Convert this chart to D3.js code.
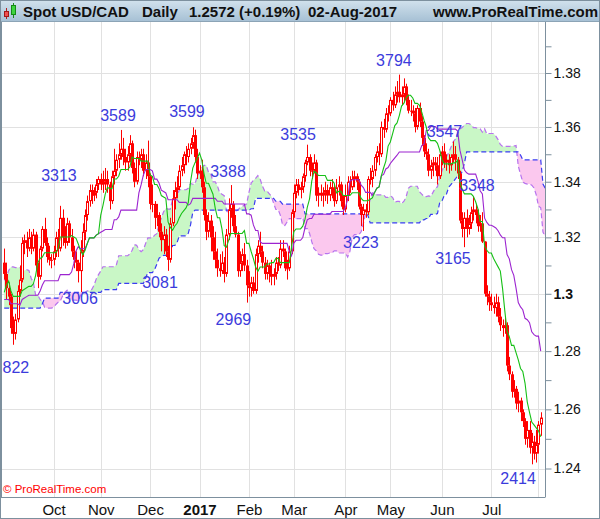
<!DOCTYPE html>
<html><head><meta charset="utf-8">
<script src="https://cdn.jsdelivr.net/npm/d3@7"></script>
<style>body{margin:0;background:#fff}svg{display:block}text{font-family:"Liberation Sans",Arial,sans-serif}</style>
</head><body>
<svg id="c" width="600" height="519"></svg>
<script>
// ---------------- DATA ----------------
const firstDay = "2016-09-01", lastDay = "2017-08-02";
const opens = [
1.3110,1.3070,1.3020,1.2990,1.2880,1.2860,1.2910,1.3010,1.3050,1.3180,1.3190,1.3160,1.3200,1.3160,1.3210,1.3100,1.3060,1.3160,1.3230,1.3180,1.3130,1.3120,
1.3120,1.3150,1.3200,1.3160,1.3270,1.3200,1.3180,1.3250,1.3200,1.3150,1.3120,1.3110,1.3080,1.3150,1.3220,1.3280,1.3330,1.3370,1.3350,1.3360,1.3390,
1.3410,1.3390,1.3400,1.3410,1.3390,1.3330,1.3420,1.3440,1.3480,1.3500,1.3520,1.3490,1.3470,1.3500,1.3540,1.3450,1.3400,1.3490,1.3480,1.3500,1.3440,1.3470,
1.3420,1.3320,1.3320,1.3270,1.3280,1.3220,1.3190,1.3210,1.3150,1.3120,1.3250,1.3340,1.3370,1.3380,1.3440,1.3460,1.3500,1.3490,1.3520,1.3540,1.3570,1.3490,
1.3430,1.3440,1.3380,1.3280,1.3220,1.3260,1.3200,1.3150,1.3120,1.3090,1.3080,1.3110,1.3070,1.3210,1.3300,1.3320,1.3240,1.3210,1.3080,1.3110,1.3140,1.3100,
1.3030,1.3020,1.3040,1.3010,1.3140,1.3170,1.3150,1.3110,1.3070,1.3100,1.3070,1.3060,1.3070,1.3110,1.3100,1.3160,1.3150,1.3090,1.3090,1.3150,
1.3290,1.3360,1.3390,1.3370,1.3380,1.3420,1.3470,1.3490,1.3440,1.3440,1.3470,1.3350,1.3360,1.3350,1.3360,1.3370,1.3350,1.3380,1.3370,1.3330,1.3380,1.3390,1.3330,
1.3300,1.3350,1.3400,1.3380,1.3410,1.3420,1.3400,1.3310,1.3280,1.3300,1.3290,1.3410,1.3410,1.3440,1.3490,1.3510,1.3500,1.3600,1.3590,1.3650,
1.3650,1.3700,1.3680,1.3720,1.3730,1.3710,1.3720,1.3750,1.3700,1.3660,1.3660,1.3650,1.3600,1.3670,1.3620,1.3560,1.3510,1.3500,1.3440,1.3460,1.3470,1.3460,1.3420,
1.3500,1.3510,1.3470,1.3480,1.3460,1.3490,1.3500,1.3480,1.3430,1.3260,1.3230,1.3270,1.3230,1.3250,1.3290,1.3300,1.3280,1.3240,1.3250,1.3185,1.3000,1.2990,
1.2970,1.2960,1.2950,1.2970,1.2920,1.2890,1.2880,1.2890,1.2750,1.2720,1.2660,1.2670,1.2620,1.2630,1.2590,1.2560,1.2500,1.2530,1.2470,1.2490,1.2450,
1.2480,1.2548];
const highs = [
1.3160,1.3110,1.3040,1.3000,1.2920,1.2930,1.3030,1.3100,1.3200,1.3210,1.3220,1.3230,1.3220,1.3230,1.3220,1.3110,1.3170,1.3240,1.3270,1.3200,1.3170,1.3140,
1.3170,1.3220,1.3230,1.3313,1.3300,1.3240,1.3270,1.3260,1.3230,1.3170,1.3150,1.3120,1.3190,1.3250,1.3300,1.3350,1.3390,1.3390,1.3380,1.3410,1.3420,
1.3430,1.3440,1.3450,1.3440,1.3400,1.3440,1.3520,1.3500,1.3540,1.3589,1.3560,1.3520,1.3530,1.3570,1.3550,1.3470,1.3510,1.3510,1.3520,1.3520,1.3500,1.3550,
1.3430,1.3390,1.3330,1.3320,1.3290,1.3250,1.3240,1.3230,1.3170,1.3270,1.3370,1.3400,1.3420,1.3460,1.3490,1.3510,1.3530,1.3540,1.3560,1.3599,1.3590,1.3520,
1.3460,1.3480,1.3400,1.3300,1.3290,1.3280,1.3240,1.3220,1.3160,1.3140,1.3150,1.3130,1.3230,1.3340,1.3388,1.3330,1.3280,1.3220,1.3150,1.3160,1.3180,1.3120,
1.3080,1.3060,1.3060,1.3160,1.3190,1.3220,1.3170,1.3130,1.3120,1.3110,1.3120,1.3090,1.3130,1.3130,1.3190,1.3190,1.3160,1.3120,1.3170,1.3300,
1.3390,1.3410,1.3410,1.3400,1.3430,1.3480,1.3535,1.3500,1.3470,1.3500,1.3480,1.3380,1.3390,1.3380,1.3400,1.3390,1.3400,1.3410,1.3390,1.3410,1.3420,1.3400,1.3350,
1.3390,1.3420,1.3420,1.3440,1.3440,1.3430,1.3410,1.3320,1.3320,1.3320,1.3420,1.3450,1.3460,1.3500,1.3530,1.3540,1.3620,1.3630,1.3670,1.3680,
1.3710,1.3730,1.3750,1.3770,1.3794,1.3750,1.3780,1.3760,1.3720,1.3700,1.3680,1.3670,1.3680,1.3690,1.3640,1.3570,1.3540,1.3520,1.3480,1.3490,1.3490,1.3490,1.3510,
1.3530,1.3540,1.3500,1.3500,1.3500,1.3547,1.3530,1.3490,1.3440,1.3290,1.3290,1.3300,1.3280,1.3310,1.3348,1.3320,1.3300,1.3280,1.3290,1.3186,1.3030,1.3010,
1.3000,1.2990,1.3000,1.2990,1.2950,1.2910,1.2920,1.2900,1.2780,1.2730,1.2700,1.2680,1.2660,1.2640,1.2600,1.2570,1.2560,1.2560,1.2520,1.2510,1.2530,
1.2560,1.2590];
const lows = [
1.3050,1.2980,1.2960,1.2860,1.2822,1.2840,1.2900,1.2990,1.3040,1.3140,1.3130,1.3150,1.3140,1.3150,1.3080,1.3020,1.3050,1.3150,1.3170,1.3110,1.3100,1.3090,
1.3100,1.3130,1.3130,1.3150,1.3170,1.3160,1.3170,1.3180,1.3130,1.3090,1.3080,1.3040,1.3006,1.3130,1.3190,1.3260,1.3310,1.3320,1.3330,1.3340,1.3370,
1.3370,1.3360,1.3370,1.3360,1.3300,1.3320,1.3390,1.3420,1.3450,1.3480,1.3460,1.3440,1.3440,1.3470,1.3430,1.3380,1.3390,1.3460,1.3450,1.3420,1.3410,1.3380,
1.3300,1.3290,1.3230,1.3240,1.3200,1.3150,1.3140,1.3130,1.3081,1.3110,1.3240,1.3300,1.3340,1.3370,1.3420,1.3430,1.3460,1.3470,1.3500,1.3520,1.3470,1.3410,
1.3410,1.3360,1.3260,1.3190,1.3200,1.3150,1.3120,1.3090,1.3060,1.3060,1.3070,1.3040,1.3060,1.3190,1.3270,1.3220,1.3200,1.3060,1.3060,1.3080,1.3080,1.2969,
1.2990,1.2990,1.3000,1.3000,1.3110,1.3130,1.3090,1.3050,1.3050,1.3040,1.3030,1.3030,1.3050,1.3080,1.3090,1.3130,1.3080,1.3050,1.3080,1.3140,
1.3270,1.3340,1.3350,1.3340,1.3360,1.3400,1.3460,1.3420,1.3410,1.3430,1.3330,1.3310,1.3330,1.3310,1.3330,1.3320,1.3330,1.3340,1.3310,1.3320,1.3350,1.3310,1.3280,
1.3290,1.3330,1.3360,1.3370,1.3380,1.3370,1.3300,1.3240,1.3223,1.3270,1.3280,1.3390,1.3380,1.3420,1.3470,1.3460,1.3490,1.3560,1.3580,1.3620,
1.3640,1.3660,1.3670,1.3690,1.3690,1.3680,1.3690,1.3680,1.3650,1.3640,1.3620,1.3580,1.3590,1.3600,1.3530,1.3490,1.3480,1.3420,1.3410,1.3420,1.3440,1.3390,1.3410,
1.3460,1.3450,1.3440,1.3430,1.3440,1.3470,1.3440,1.3410,1.3250,1.3200,1.3165,1.3200,1.3210,1.3230,1.3260,1.3250,1.3220,1.3220,1.3180,1.2990,1.2960,1.2940,
1.2940,1.2930,1.2920,1.2900,1.2870,1.2850,1.2860,1.2730,1.2700,1.2640,1.2640,1.2600,1.2590,1.2560,1.2540,1.2480,1.2470,1.2450,1.2414,1.2430,1.2420,
1.2450,1.2510];
const closes = [
1.3070,1.3020,1.2990,1.2880,1.2860,1.2910,1.3010,1.3050,1.3180,1.3190,1.3160,1.3200,1.3160,1.3210,1.3100,1.3060,1.3160,1.3230,1.3180,1.3130,1.3120,1.3120,
1.3150,1.3200,1.3160,1.3270,1.3200,1.3180,1.3250,1.3200,1.3150,1.3120,1.3110,1.3080,1.3150,1.3220,1.3280,1.3330,1.3370,1.3350,1.3360,1.3390,1.3410,
1.3390,1.3400,1.3410,1.3390,1.3330,1.3420,1.3440,1.3480,1.3500,1.3520,1.3490,1.3470,1.3500,1.3540,1.3450,1.3400,1.3490,1.3480,1.3500,1.3440,1.3470,1.3420,
1.3320,1.3320,1.3270,1.3280,1.3220,1.3190,1.3210,1.3150,1.3120,1.3250,1.3340,1.3370,1.3380,1.3440,1.3460,1.3500,1.3490,1.3520,1.3540,1.3570,1.3490,1.3430,
1.3440,1.3380,1.3280,1.3220,1.3260,1.3200,1.3150,1.3120,1.3090,1.3080,1.3110,1.3070,1.3210,1.3300,1.3320,1.3240,1.3210,1.3080,1.3110,1.3140,1.3100,1.3030,
1.3020,1.3040,1.3010,1.3140,1.3170,1.3150,1.3110,1.3070,1.3100,1.3070,1.3060,1.3070,1.3110,1.3100,1.3160,1.3150,1.3090,1.3090,1.3150,1.3290,
1.3360,1.3390,1.3370,1.3380,1.3420,1.3470,1.3490,1.3440,1.3440,1.3470,1.3350,1.3360,1.3350,1.3360,1.3370,1.3350,1.3380,1.3370,1.3330,1.3380,1.3390,1.3330,1.3300,
1.3350,1.3400,1.3380,1.3410,1.3420,1.3400,1.3310,1.3280,1.3300,1.3290,1.3410,1.3410,1.3440,1.3490,1.3510,1.3500,1.3600,1.3590,1.3650,1.3650,
1.3700,1.3680,1.3720,1.3730,1.3710,1.3720,1.3750,1.3700,1.3660,1.3660,1.3650,1.3600,1.3670,1.3620,1.3560,1.3510,1.3500,1.3440,1.3460,1.3470,1.3460,1.3420,1.3500,
1.3510,1.3470,1.3480,1.3460,1.3490,1.3500,1.3480,1.3430,1.3260,1.3230,1.3270,1.3230,1.3250,1.3290,1.3300,1.3280,1.3240,1.3250,1.3185,1.3000,1.2990,1.2970,
1.2960,1.2950,1.2970,1.2920,1.2890,1.2880,1.2890,1.2750,1.2720,1.2660,1.2670,1.2620,1.2630,1.2590,1.2560,1.2500,1.2530,1.2470,1.2490,1.2450,1.2480,
1.2548,1.2572];
// history before the first visible day (only feeds the Ichimoku lines)
const preHighs = [
1.2940,1.3040,1.3080,1.3100,1.3160,1.3190,1.3180,1.3130,1.3130,1.3120,1.3110,
1.3140,1.3100,1.3040,1.2880,1.2800,1.2770,1.2800,1.2900,1.2840,1.2900,1.2880,1.2960,1.2900,1.2840,1.2830,1.2860,1.2860,1.3120,1.3120,1.3060,1.2980,1.2960,
1.2960,1.2900,1.3020,1.3080,1.3100,1.3110,1.3080,1.3030,1.3070,1.3000,1.3050,1.3060,1.3120,1.3140,1.3170,1.3200,1.3250,1.3250,1.3220,1.3180,1.3150,
1.3200,1.3160,1.3150,1.3140,1.3170,1.3150,1.3120,1.3040,1.3010,1.3030,1.2970,1.2900,1.2880,1.2860,1.2880,1.2960,1.2990,1.3020,1.3030,1.3040,1.3080,1.3110,1.3130];
const preLows = [
1.2840,1.2880,1.2960,1.3020,1.3060,1.3090,1.3080,1.2990,1.2990,1.3050,1.3040,
1.3020,1.2990,1.2820,1.2760,1.2690,1.2650,1.2680,1.2760,1.2760,1.2800,1.2790,1.2800,1.2780,1.2720,1.2760,1.2760,1.2760,1.2830,1.2960,1.2960,1.2900,1.2880,
1.2880,1.2840,1.2880,1.2980,1.3010,1.2970,1.2990,1.2920,1.2970,1.2930,1.2930,1.2970,1.3000,1.3070,1.3080,1.3100,1.3170,1.3150,1.3120,1.3060,1.3040,
1.3100,1.3060,1.3030,1.3040,1.3050,1.3060,1.3000,1.2970,1.2960,1.2900,1.2870,1.2780,1.2780,1.2760,1.2790,1.2850,1.2900,1.2930,1.2950,1.2970,1.3000,1.3030,1.3060];

const yTicks = [1.24,1.26,1.28,1.30,1.32,1.34,1.36,1.38];
const yTickLabels = ["1.24","1.26","1.28","1.3","1.32","1.34","1.36","1.38"];
const yMinorTicks = [1.25,1.27,1.29,1.31,1.33,1.35,1.37,1.39];
const monthLabels = ["Oct","Nov","Dec","2017","Feb","Mar","Apr","May","Jun","Jul",""];

// swing annotations: label text, price, day position of label centre
const swingText  = ["3313","3589","3599","3388","3535","3794","3547","3348","822","3006","3081","2969","3223","3165","2414"];
const swingPrice = [1.3313,1.3589,1.3599,1.3388,1.3535,1.3794,1.3547,1.3348,1.2822,1.3006,1.3081,1.2969,1.3223,1.3165,1.2414];
const swingDay   = [24.4,50.7,81.4,99.7,130.9,173.6,196.1,210.6,5.2,33.8,69.4,102.1,158.9,199.9,228.9];

const headerTexts = ["Spot USD/CAD","Daily","1.2572 (+0.19%)","02-Aug-2017","www.ProRealTime.com"];

// ---------------- LAYOUT ----------------
const W = 600, H = 519;
const P = {l:2, r:545, t:22, b:497};
const swingDy = [-25,-9,-10,-8,-5,-9,-4,-5,28,12,17,22,17,17,19.5];
const headerX = [23,142,189,308,433];

const parse = s => new Date(s + "T00:00:00Z");
const weekdays = (a,b) => d3.utcDay.range(parse(a), d3.utcDay.offset(parse(b),1)).filter(d => d.getUTCDay()%6 !== 0);
const dates = weekdays(firstDay, lastDay);
const N = dates.length;
const NP = preHighs.length;
const allH = preHighs.concat(highs), allL = preLows.concat(lows);

const x = d3.scaleLinear().domain([-0.98, 240.9]).range([P.l, P.r]);
const y = d3.scaleLog().domain([1.24, 1.38]).range([468.5, 73]);

function mid(j, n){ // j = visible day index (can be negative)
  const e = j + NP, s = e - n + 1;
  return (d3.max(allH.slice(s, e+1)) + d3.min(allL.slice(s, e+1))) / 2;
}
const tenkan = d3.range(N).map(i => mid(i, 9));
const kijun = d3.range(N).map(i => mid(i, 26));
const T = N + 3;
const spanA = d3.range(T).map(t => (mid(t-26, 9) + mid(t-26, 26)) / 2);
const spanB = d3.range(T).map(t => mid(t-26, 52));

const svg = d3.select("#c");
const defs = svg.append("defs");
const gr = defs.append("linearGradient").attr("id","hdr").attr("x1",0).attr("y1",0).attr("x2",0).attr("y2",1);
gr.append("stop").attr("offset","0").attr("stop-color","#d2e2ed");
gr.append("stop").attr("offset","1").attr("stop-color","#a7c1d5");
defs.append("clipPath").attr("id","clip").append("rect")
  .attr("x",P.l).attr("y",P.t).attr("width",P.r-P.l).attr("height",P.b-P.t);

svg.append("rect").attr("width",W).attr("height",H).attr("fill","#fff");

// grid
const monthIdx = d3.range(1, N).filter(i => dates[i].getUTCMonth() !== dates[i-1].getUTCMonth());
const grid = svg.append("g");
grid.selectAll(".gh").data(yTicks).join("line")
  .attr("x1",P.l).attr("x2",P.r).attr("y1",d=>Math.round(y(d))+0.5).attr("y2",d=>Math.round(y(d))+0.5)
  .attr("stroke","#e1e1e1");
grid.selectAll(".gv").data(monthIdx).join("line")
  .attr("y1",P.t).attr("y2",P.b).attr("x1",d=>Math.round(x(d))+0.5).attr("x2",d=>Math.round(x(d))+0.5)
  .attr("stroke","#e1e1e1");

const g = svg.append("g").attr("clip-path","url(#clip)");

// cloud
const cpts = [];
for (let t=0; t<T; t++){
  const p = {x:x(t), ya:y(spanA[t]), yb:y(spanB[t])};
  cpts.push(p);
  if (t+1 < T){
    const q = {x:x(t+1), ya:y(spanA[t+1]), yb:y(spanB[t+1])};
    const d1 = p.ya - p.yb, d2 = q.ya - q.yb;
    if (d1*d2 < 0){
      const f = d1/(d1-d2);
      const yy = p.ya + f*(q.ya-p.ya);
      cpts.push({x:p.x + f*(q.x-p.x), ya:yy, yb:yy});
    }
  }
}
g.append("path").datum(cpts).attr("fill","#c9f7c6")
  .attr("d", d3.area().x(d=>d.x).y0(d=>d.yb).y1(d=>Math.min(d.ya,d.yb)));
g.append("path").datum(cpts).attr("fill","#fbc8ee")
  .attr("d", d3.area().x(d=>d.x).y0(d=>d.ya).y1(d=>Math.min(d.ya,d.yb)));
const lt = d3.line().x((d,i)=>x(i)).y(d=>y(d));
g.append("path").datum(spanA).attr("fill","none").attr("stroke","#b772ee").attr("stroke-width",1.2)
  .attr("stroke-dasharray","5,3").attr("d", lt);
g.append("path").datum(spanB).attr("fill","none").attr("stroke","#3a3cf2").attr("stroke-width",1.2)
  .attr("stroke-dasharray","5,3").attr("d", lt);

// candles
const candles = dates.map((d,i)=>({i, o:opens[i], h:highs[i], l:lows[i], c:closes[i]}));
const cg = g.append("g");
cg.selectAll("line").data(candles).join("line")
  .attr("x1",d=>Math.round(x(d.i))+0.5).attr("x2",d=>Math.round(x(d.i))+0.5)
  .attr("y1",d=>y(d.h)).attr("y2",d=>y(d.l)).attr("stroke","#ff0000");
cg.selectAll("rect").data(candles).join("rect")
  .each(function(d){
    const cx = Math.round(x(d.i));
    const top = y(Math.max(d.o,d.c)), bot = y(Math.min(d.o,d.c));
    const h = Math.max(1, bot-top);
    const up = d.c > d.o && h >= 2.5;
    const s = d3.select(this);
    if (up) s.attr("x",cx-0.5).attr("width",2).attr("y",top+0.5).attr("height",h-1)
             .attr("fill","#fff").attr("stroke","#ff0000").attr("stroke-width",1);
    else s.attr("x",cx-1).attr("width",3).attr("y",top).attr("height",h).attr("fill","#ff0000");
  });

// tenkan / kijun
g.append("path").datum(kijun).attr("fill","none").attr("stroke","#9c24d0").attr("stroke-width",1.1).attr("d", lt);
g.append("path").datum(tenkan).attr("fill","none").attr("stroke","#16c016").attr("stroke-width",1.1).attr("d", lt);

// swing labels
svg.append("g").selectAll(".sw").data(swingPrice).join("text")
  .attr("x",(d,i)=>x(swingDay[i])).attr("y",(d,i)=>y(d)+swingDy[i])
  .attr("text-anchor","middle").attr("font-size",16).attr("fill","#3b3bdc")
  .text((d,i)=>swingText[i]);

// copyright
svg.append("text").attr("x",3).attr("y",493).attr("font-size",11.5).attr("fill","#ff0000")
  .text("\u00a9 ProRealTime.com");

// frame
svg.append("line").attr("x1",1.5).attr("x2",1.5).attr("y1",P.t).attr("y2",P.b+0.5).attr("stroke","#7d909e");
svg.append("line").attr("x1",1).attr("x2",P.r).attr("y1",P.b+0.5).attr("y2",P.b+0.5).attr("stroke","#7d909e");

// y axis
const ya = svg.append("g").attr("transform",`translate(${P.r+0.5},0)`)
  .call(d3.axisRight(y).tickValues(yTicks).tickFormat((d,i)=>yTickLabels[i]).tickSize(6).tickPadding(2));
ya.select(".domain").attr("stroke","#7d909e").attr("d",`M0,${P.t}V${P.b+0.5}`);
ya.selectAll(".tick line").attr("stroke","#7d909e");
ya.selectAll(".tick text").attr("font-size",14).attr("fill","#111")
  .attr("font-family","'Liberation Sans',Arial,sans-serif")
  .attr("font-weight",(d,i)=>yTickLabels[i]==="1.3"?"bold":"normal");
const ym = svg.append("g").attr("transform",`translate(${P.r+0.5},0)`)
  .call(d3.axisRight(y).tickValues(yMinorTicks).tickFormat("").tickSize(6));
ym.select(".domain").remove();
ym.selectAll(".tick line").attr("stroke","#7d909e");

// x axis
const xa = svg.append("g").attr("transform",`translate(0,${P.b})`)
  .call(d3.axisBottom(x).tickValues(monthIdx).tickFormat((d,i)=>monthLabels[i]||"").tickSize(0).tickPadding(7));
xa.select(".domain").remove();
xa.selectAll(".tick text").attr("font-size",15).attr("fill","#111")
  .attr("font-family","'Liberation Sans',Arial,sans-serif")
  .attr("font-weight",(d,i)=>monthLabels[i]==="2017"?"bold":"normal");

// header
svg.append("rect").attr("x",0).attr("y",0).attr("width",W).attr("height",21).attr("fill","url(#hdr)");
svg.append("line").attr("x1",0).attr("x2",W).attr("y1",21.5).attr("y2",21.5).attr("stroke","#8ca4b6");
const ic = svg.append("g");
ic.append("line").attr("x1",6.5).attr("x2",6.5).attr("y1",8).attr("y2",19).attr("stroke","#b02020");
ic.append("rect").attr("x",4.5).attr("y",11.5).attr("width",4).attr("height",5).attr("fill","#f05050").attr("stroke","#a01818");
ic.append("line").attr("x1",13.5).attr("x2",13.5).attr("y1",3).attr("y2",18).attr("stroke","#1a8a1a");
ic.append("rect").attr("x",11.5).attr("y",5.5).attr("width",4).attr("height",9).attr("fill","#3ed43e").attr("stroke","#168a16");
svg.selectAll(".ht").data(headerTexts).join("text")
  .attr("x",(d,i)=>headerX[i]).attr("y",16.5).attr("font-size",15).attr("font-weight","bold").attr("fill","#111")
  .text(d=>d);

// outer border
svg.append("rect").attr("x",0.5).attr("y",0.5).attr("width",W-1).attr("height",H-1)
  .attr("fill","none").attr("stroke","#7d909e");
</script>
</body></html>
